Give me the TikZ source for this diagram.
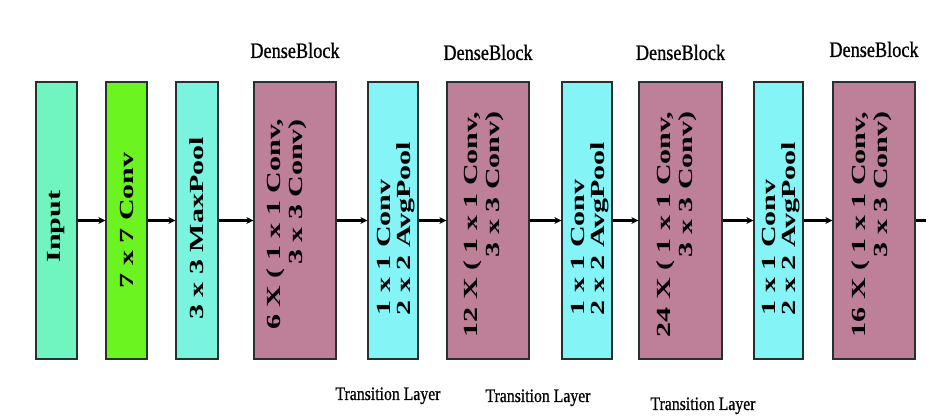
\documentclass[tikz,border=0pt]{standalone}
\usepackage{fontspec}
\setmainfont{Liberation Serif}
\newfontfamily\layerfont[FakeStretch=1.5]{Liberation Serif}
\newfontfamily\capfont[FakeStretch=0.83,FakeBold=0.8]{Liberation Serif}
\usetikzlibrary{positioning,arrows.meta}
\definecolor{mint}{RGB}{112,244,192}
\definecolor{convgreen}{RGB}{108,244,32}
\definecolor{poolcyan}{RGB}{122,244,222}
\definecolor{mauve}{RGB}{190,128,152}
\definecolor{transcyan}{RGB}{132,244,246}
\definecolor{edge}{RGB}{40,48,48}

\tikzset{
  layer/.style={draw=edge, line width=1.3pt, minimum height=277pt, inner sep=0pt},
  layertext/.style={rotate=90, inner sep=0pt,
    font=\layerfont\bfseries\fontsize{20}{22}\selectfont},
  transtext/.style={layertext, align=left,
    font=\layerfont\bfseries\fontsize{20}{20}\selectfont},
  flow/.style={line width=2.6pt, -{Stealth[length=7pt,width=7pt]}},
  blocklabel/.style={inner sep=0pt, font=\capfont\fontsize{22}{24}\selectfont},
  translabel/.style={inner sep=0pt, anchor=base, font=\capfont\fontsize{19}{21}\selectfont},
}

\begin{document}
\begin{tikzpicture}[x=1pt, y=1pt]
  \useasboundingbox[fill=white] (0,0) rectangle (952,419);

  %% stem
  \node[layer, fill=mint, minimum width=41pt] (input) at (56.5,198.5) {};
  \node[layertext] (inputtxt) at ([yshift=-6pt]input) {Input};
  \node[layer, fill=convgreen, minimum width=41pt] (conv) at (126.5,198.5) {};
  \node[layertext] (convtxt) at (conv) {7 x 7 Conv};
  \node[layer, fill=poolcyan, minimum width=42pt] (pool) at (197,198.5) {};
  \node[layertext] (pooltxt) at ([yshift=-8pt]pool) {3 x 3 MaxPool};

  %% dense blocks and transition layers
  \node[layer, fill=mauve, minimum width=82pt] (db1) at (295,198.5) {};
  \node[layertext, align=right] (db1txt) at ([shift={(-8pt,-4pt)}]db1) {6 X ( 1 x 1 Conv,\\3 x 3 Conv)};
  \node[layer, fill=transcyan, minimum width=50pt] (t1) at (393,198.5) {};
  \node[transtext] (t1txt) at ([shift={(3pt,-8pt)}]t1) {1 x 1 Conv\\2 x 2 AvgPool};

  \node[layer, fill=mauve, minimum width=82pt] (db2) at (488,198.5) {};
  \node[layertext, align=right] (db2txt) at ([shift={(-4pt,-4pt)}]db2) {12 X ( 1 x 1 Conv,\\3 x 3 Conv)};
  \node[layer, fill=transcyan, minimum width=50pt] (t2) at (587,198.5) {};
  \node[transtext] (t2txt) at ([shift={(3pt,-8pt)}]t2) {1 x 1 Conv\\2 x 2 AvgPool};

  \node[layer, fill=mauve, minimum width=83pt] (db3) at (680.5,198.5) {};
  \node[layertext, align=right] (db3txt) at ([shift={(-4pt,-4pt)}]db3) {24 X ( 1 x 1 Conv,\\3 x 3 Conv)};
  \node[layer, fill=transcyan, minimum width=49pt] (t3) at (778.5,198.5) {};
  \node[transtext] (t3txt) at ([shift={(3pt,-8pt)}]t3) {1 x 1 Conv\\2 x 2 AvgPool};

  \node[layer, fill=mauve, minimum width=82pt] (db4) at (874,198.5) {};
  \node[layertext, align=right] (db4txt) at ([shift={(-2pt,-4pt)}]db4) {16 X ( 1 x 1 Conv,\\3 x 3 Conv)};

  %% labels
  \node[blocklabel, above=23pt of db1] (db1lab) {DenseBlock};
  \node[blocklabel, above=21pt of db2] (db2lab) {DenseBlock};
  \node[blocklabel, above=21pt of db3] (db3lab) {DenseBlock};
  \node[blocklabel, above=24pt of db4] (db4lab) {DenseBlock};
  \node[translabel] (t1lab) at (388,19) {Transition Layer};
  \node[translabel] (t2lab) at (538,17) {Transition Layer};
  \node[translabel] (t3lab) at (703,9) {Transition Layer};

  %% connections
  \draw[flow] (input) -- (conv);
  \draw[flow] (conv) -- (pool);
  \draw[flow] (pool) -- (db1);
  \draw[flow] (db1) -- (t1);
  \draw[flow] (t1) -- (db2);
  \draw[flow] (db2) -- (t2);
  \draw[flow] (t2) -- (db3);
  \draw[flow] (db3) -- (t3);
  \draw[flow] (t3) -- (db4);
  \coordinate (out) at ([xshift=10pt]db4.east);
  \draw[line width=2.6pt] (db4) -- (out);
\end{tikzpicture}
\end{document}
